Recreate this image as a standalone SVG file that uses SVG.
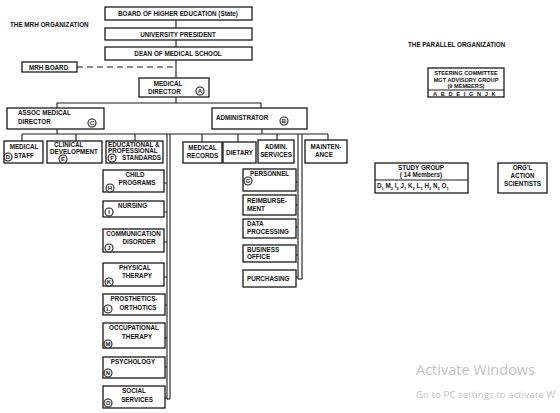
<svg xmlns="http://www.w3.org/2000/svg" width="560" height="413" viewBox="0 0 560 413">
<style>
.b{fill:#fff;stroke:#1a1a1a;stroke-width:1.3}
.t{font-family:"Liberation Sans",Arial,sans-serif;font-weight:bold;font-size:6.3px;fill:#111}
.s{font-size:5.6px}
.m{text-anchor:middle}
.c{fill:#fff;stroke:#1a1a1a;stroke-width:1.1}
.ct{font-family:"Liberation Sans",Arial,sans-serif;font-weight:bold;font-size:6px;fill:#111;text-anchor:middle}
.l{stroke:#1a1a1a;stroke-width:1.1;fill:none}
.w{font-family:"Segoe UI","Open Sans","Noto Sans",sans-serif;fill:#c4c4c4}
</style>
<rect width="560" height="413" fill="#fff"/>
<text class="t" x="10" y="27">THE MRH ORGANIZATION</text>
<text class="t" x="408" y="47">THE PARALLEL ORGANIZATION</text>
<g id="connectors">
<line class="l" x1="176" y1="20" x2="176" y2="28"/>
<line class="l" x1="176" y1="40" x2="176" y2="47"/>
<line class="l" x1="176" y1="60" x2="176" y2="78"/>
<line class="l" x1="77" y1="67" x2="176" y2="67" stroke-dasharray="6,4" stroke-width="1.4"/>
<line class="l" x1="176" y1="97" x2="176" y2="103"/>
<polyline class="l" points="57,108 57,103 261,103 261,108"/>
<line class="l" x1="57" y1="129" x2="57" y2="134"/>
<line class="l" x1="262" y1="129" x2="262" y2="134"/>
<line class="l" x1="22" y1="134" x2="328" y2="134"/>
<line class="l" x1="22" y1="134" x2="22" y2="141"/>
<line class="l" x1="76" y1="134" x2="76" y2="141"/>
<line class="l" x1="135" y1="134" x2="135" y2="141"/>
<line class="l" x1="202" y1="134" x2="202" y2="142"/>
<line class="l" x1="238" y1="134" x2="238" y2="142"/>
<line class="l" x1="277" y1="134" x2="277" y2="140"/>
<line class="l" x1="328" y1="134" x2="328" y2="140"/>
<line class="l" x1="167" y1="134" x2="167" y2="399"/>
<line class="l" x1="170" y1="134" x2="170" y2="399"/>
<line class="l" x1="167" y1="399" x2="170" y2="399"/>
<line class="l" x1="298" y1="134" x2="298" y2="279"/>
<line class="l" x1="302" y1="134" x2="302" y2="279"/>
<line class="l" x1="298" y1="279" x2="302" y2="279"/>
<path class="l" d="M164,183H167M164,212H167M164,242H167M164,277H167M165,305H167M165,338H167M165,367H167M165,398H167"/>
<path class="l" d="M296,182H298M296,205H298M296,227H298M296,255H298M296,277H298"/>
</g>
<g id="board"><rect class="b" x="105" y="7" width="147" height="13"/><text class="t m" x="178" y="16">BOARD OF HIGHER EDUCATION (State)</text></g>
<g id="president"><rect class="b" x="105" y="28" width="147" height="12"/><text class="t m" x="178" y="36.5">UNIVERSITY PRESIDENT</text></g>
<g id="dean"><rect class="b" x="105" y="47" width="147" height="13"/><text class="t m" x="178" y="56">DEAN OF MEDICAL SCHOOL</text></g>
<g id="mrhboard"><rect class="b" x="22" y="62" width="55" height="10"/><text class="t" x="29" y="69.5">MRH BOARD</text></g>
<g id="meddirector"><rect class="b" x="139" y="78" width="70" height="19"/><text class="t m" x="168" y="86">MEDICAL</text><text class="t" x="148" y="94">DIRECTOR</text><circle class="c" cx="200" cy="91" r="4"/><text class="ct" x="200" y="93.2">A</text></g>
<g id="assoc"><rect class="b" x="7" y="108" width="97" height="21"/><text class="t" x="18" y="115">ASSOC MEDICAL</text><text class="t" x="18" y="124">DIRECTOR</text><circle class="c" cx="92" cy="123" r="4"/><text class="ct" x="92" y="125.2">C</text></g>
<g id="administrator"><rect class="b" x="212" y="108" width="95" height="21"/><text class="t" x="216" y="120">ADMINISTRATOR</text><circle class="c" cx="284" cy="121" r="4"/><text class="ct" x="284" y="123.2">B</text></g>
<g id="medstaff"><rect class="b" x="4" y="141" width="39" height="22"/><text class="t m" x="24" y="149">MEDICAL</text><text class="t" x="14" y="157.5">STAFF</text><circle class="c" cx="8" cy="157" r="4"/><text class="ct" x="8" y="159.2">D</text></g>
<g id="clinical"><rect class="b" x="47" y="141" width="55" height="22"/><text class="t" x="54" y="147">CLINICAL</text><text class="t" x="50" y="154">DEVELOPMENT</text><circle class="c" cx="63" cy="159" r="4"/><text class="ct" x="63" y="161.2">E</text></g>
<g id="educational"><rect class="b" x="106" y="141" width="57" height="22"/><text class="t" x="108" y="147">EDUCATIONAL &amp;</text><text class="t" x="108" y="153">PROFESSIONAL</text><text class="t" x="122" y="160">STANDARDS</text><circle class="c" cx="112" cy="158" r="4"/><text class="ct" x="112" y="160.2">F</text></g>
<g id="medrecords"><rect class="b" x="183" y="142" width="39" height="21"/><text class="t m" x="202.5" y="150">MEDICAL</text><text class="t m" x="202.5" y="157.5">RECORDS</text></g>
<g id="dietary"><rect class="b" x="223" y="142" width="33" height="21"/><text class="t m" x="239.5" y="154.5">DIETARY</text></g>
<g id="adminservices"><rect class="b" x="258" y="140" width="36" height="23"/><text class="t m" x="276" y="149">ADMIN.</text><text class="t m" x="276" y="157">SERVICES</text></g>
<g id="maintenance"><rect class="b" x="305" y="140" width="42" height="23"/><text class="t m" x="326" y="149">MAINTEN-</text><text class="t" x="315" y="157">ANCE</text></g>
<g id="child"><rect class="b" x="103" y="170" width="61" height="22"/><text class="t m" x="135" y="177">CHILD</text><text class="t m" x="137" y="184.5">PROGRAMS</text><circle class="c" cx="110" cy="188" r="4"/><text class="ct" x="110" y="190.2">H</text></g>
<g id="nursing"><rect class="b" x="103" y="201" width="61" height="16"/><text class="t" x="118" y="208">NURSING</text><circle class="c" cx="109" cy="212" r="4"/><text class="ct" x="109" y="214.2">I</text></g>
<g id="communication"><rect class="b" x="103" y="229" width="61" height="23"/><text class="t m" x="133.5" y="236">COMMUNICATION</text><text class="t m" x="139" y="244">DISORDER</text><circle class="c" cx="109" cy="248" r="4"/><text class="ct" x="109" y="250.2">J</text></g>
<g id="physical"><rect class="b" x="103" y="263" width="61" height="23"/><text class="t m" x="135" y="270">PHYSICAL</text><text class="t m" x="137" y="278">THERAPY</text><circle class="c" cx="109" cy="282" r="4"/><text class="ct" x="109" y="284.2">K</text></g>
<g id="prosthetics"><rect class="b" x="103" y="294" width="62" height="21"/><text class="t m" x="134" y="301">PROSTHETICS-</text><text class="t m" x="138" y="310">ORTHOTICS</text><circle class="c" cx="108" cy="309" r="4"/><text class="ct" x="108" y="311.2">L</text></g>
<g id="occupational"><rect class="b" x="103" y="323" width="62" height="25"/><text class="t m" x="134" y="330">OCCUPATIONAL</text><text class="t" x="122" y="339">THERAPY</text><circle class="c" cx="108" cy="344" r="4"/><text class="ct" x="108" y="346.2">M</text></g>
<g id="psychology"><rect class="b" x="103" y="357" width="62" height="21"/><text class="t m" x="133" y="364">PSYCHOLOGY</text><circle class="c" cx="108" cy="373" r="4"/><text class="ct" x="108" y="375.2">N</text></g>
<g id="social"><rect class="b" x="103" y="386" width="62" height="22"/><text class="t m" x="134" y="393">SOCIAL</text><text class="t m" x="137" y="402">SERVICES</text><circle class="c" cx="108" cy="403" r="4"/><text class="ct" x="108" y="405.2">O</text></g>
<g id="personnel"><rect class="b" x="243" y="169" width="53" height="22"/><text class="t" x="250" y="176">PERSONNEL</text><circle class="c" cx="248" cy="181" r="4"/><text class="ct" x="248" y="183.2">G</text></g>
<g id="reimbursement"><rect class="b" x="243" y="195" width="53" height="20"/><text class="t" x="247" y="203">REIMBURSE-</text><text class="t" x="247" y="211">MENT</text></g>
<g id="dataprocessing"><rect class="b" x="243" y="219" width="53" height="19"/><text class="t" x="247" y="226">DATA</text><text class="t" x="247" y="234">PROCESSING</text></g>
<g id="business"><rect class="b" x="243" y="245" width="53" height="17"/><text class="t" x="247" y="252">BUSINESS</text><text class="t" x="247" y="259">OFFICE</text></g>
<g id="purchasing"><rect class="b" x="243" y="270" width="53" height="17"/><text class="t" x="247" y="280.5">PURCHASING</text></g>
<g id="steering"><rect class="b" x="428" y="68" width="76" height="29"/><line class="l" x1="428" y1="90" x2="504" y2="90"/><text class="t s m" x="466" y="74.5">STEERING COMMITTEE</text><text class="t s m" x="466" y="81.5">MGT ADVISORY GROUP</text><text class="t s m" x="466" y="88">(9 MEMBERS)</text><text class="t s" x="433" y="95.5" letter-spacing="3.7">ABDEIGNJK</text></g>
<g id="studygroup"><rect class="b" x="375" y="163" width="93" height="30"/><line class="l" x1="375" y1="180" x2="468" y2="180"/><text class="t m" x="421" y="169.5">STUDY GROUP</text><text class="t m" x="421" y="177" font-weight="normal">( 14 Members)</text><text class="t" x="377" y="188">D<tspan font-size="4" dy="1.5">1</tspan><tspan dy="-1.5"> M</tspan><tspan font-size="4" dy="1.5">2</tspan><tspan dy="-1.5"> I</tspan><tspan font-size="4" dy="1.5">2</tspan><tspan dy="-1.5"> J</tspan><tspan font-size="4" dy="1.5">1</tspan><tspan dy="-1.5"> K</tspan><tspan font-size="4" dy="1.5">2</tspan><tspan dy="-1.5"> L</tspan><tspan font-size="4" dy="1.5">1</tspan><tspan dy="-1.5"> H</tspan><tspan font-size="4" dy="1.5">2</tspan><tspan dy="-1.5"> N</tspan><tspan font-size="4" dy="1.5">2</tspan><tspan dy="-1.5"> O</tspan><tspan font-size="4" dy="1.5">1</tspan></text></g>
<g id="orgl"><rect class="b" x="498" y="163" width="49" height="30"/><text class="t m" x="522.5" y="170">ORG'L</text><text class="t m" x="522.5" y="178">ACTION</text><text class="t m" x="522.5" y="186">SCIENTISTS</text></g>
<text class="w" x="416" y="375" font-size="14.5">Activate Windows</text>
<text class="w" x="416" y="398" font-size="9.8">Go to PC settings to activate W</text>
</svg>
